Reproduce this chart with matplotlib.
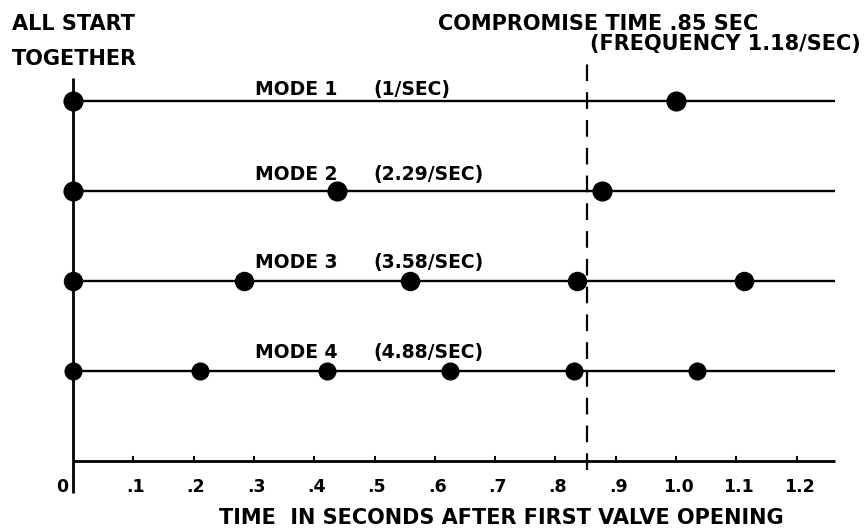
import matplotlib
matplotlib.use("Agg")
import matplotlib.pyplot as plt

plt.rcParams['font.family'] = ['DejaVu Sans']
plt.rcParams['lines.scale_dashes'] = False

# ---- data ----
mode_names = ["MODE 1", "MODE 2", "MODE 3", "MODE 4"]
mode_rates = ["(1/SEC)", "(2.29/SEC)", "(3.58/SEC)", "(4.88/SEC)"]
mode1_times = [0.0, 1.0]
mode2_times = [0.0, 0.438, 0.877]
mode3_times = [0.0, 0.284, 0.559, 0.836, 1.113]
mode4_times = [0.0, 0.211, 0.421, 0.625, 0.831, 1.035]
mode_levels = [4, 3, 2, 1]
tick_values = [0.1, 0.2, 0.3, 0.4, 0.5, 0.6, 0.7, 0.8, 0.9, 1.0, 1.1, 1.2]
tick_labels = [".1", ".2", ".3", ".4", ".5", ".6", ".7", ".8", ".9", "1.0", "1.1", "1.2"]
compromise_time = 0.852
x_end = 1.264

all_times = [mode1_times, mode2_times, mode3_times, mode4_times]
marker_sizes = [13.5, 13.5, 13, 12]
label_offsets = [0.07, 0.12, 0.14, 0.14]

fig = plt.figure(figsize=(8.65, 5.29), dpi=100)
ax = fig.add_axes([0, 0, 1, 1])
ax.set_xlim(-73 / 603, (865 - 73) / 603)
ax.set_ylim(-68 / 90, 461 / 90)
ax.axis('off')

fs_big = 15
fs_mode = 13.5
fs_tick = 12.5

# left vertical line
ax.plot([0, 0], [-0.356, 4.256], color='black', lw=2.0, solid_capstyle='butt')
# time axis
ax.plot([0, x_end], [0, 0], color='black', lw=2.0, solid_capstyle='butt')
# ticks
for tv in tick_values:
    ax.plot([tv, tv], [0, 0.05], color='black', lw=1.5)
# tick labels
ax.text(-0.018, -0.344, "0", ha='center', va='baseline', fontsize=fs_tick, fontweight='bold')
for tv, tl in zip(tick_values, tick_labels):
    ax.text(tv + 0.004, -0.344, tl, ha='center', va='baseline', fontsize=fs_tick, fontweight='bold')

# dashed compromise line
ax.plot([compromise_time, compromise_time], [-0.1, 4.478], color='black', lw=1.6,
        linestyle=(0, (12, 8)))

# mode lines and dots
for times, lvl, name, rate, ms, off in zip(all_times, mode_levels, mode_names, mode_rates,
                                            marker_sizes, label_offsets):
    ax.plot([0, x_end], [lvl, lvl], color='black', lw=1.7, solid_capstyle='butt', zorder=2)
    ax.plot(times, [lvl] * len(times), 'o', color='black', ms=ms, zorder=3)
    ax.text(0.302, lvl + off, name, ha='left', va='baseline', fontsize=fs_mode, fontweight='bold')
    ax.text(0.498, lvl + off, rate, ha='left', va='baseline', fontsize=fs_mode, fontweight='bold')

# header texts
ax.text(-0.101, 4.789, "ALL START", ha='left', va='baseline', fontsize=fs_big, fontweight='bold')
ax.text(-0.101, 4.40, "TOGETHER", ha='left', va='baseline', fontsize=fs_big, fontweight='bold')
ax.text(0.605, 4.789, "COMPROMISE TIME .85 SEC", ha='left', va='baseline', fontsize=fs_big, fontweight='bold')
ax.text(0.857, 4.567, "(FREQUENCY 1.18/SEC)", ha='left', va='baseline', fontsize=fs_big, fontweight='bold')

# x label
ax.text(0.711, -0.70, "TIME  IN SECONDS AFTER FIRST VALVE OPENING", ha='center', va='baseline',
        fontsize=fs_big, fontweight='bold')

fig.savefig("out.png", dpi=100)
